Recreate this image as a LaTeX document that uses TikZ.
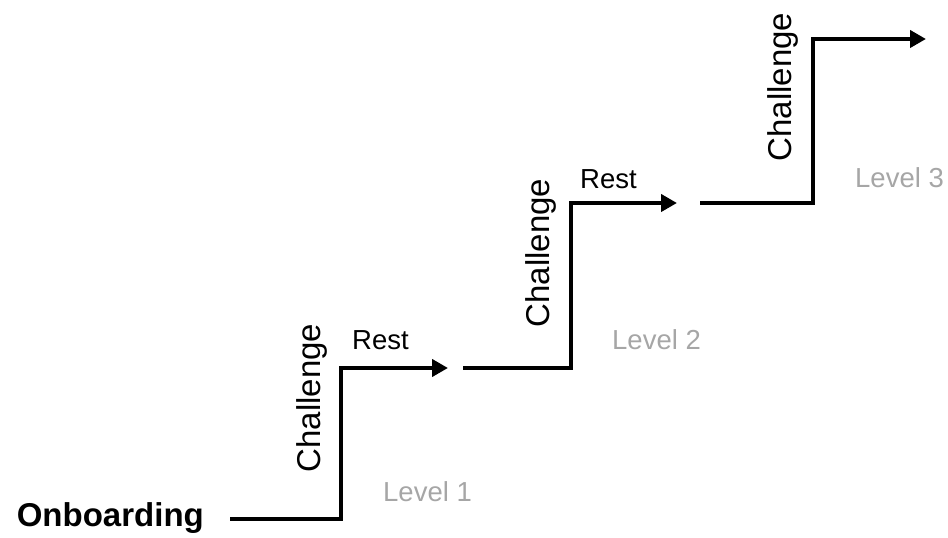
\documentclass[tikz,border=0pt]{standalone}
\usepackage{fontspec}
\setmainfont{Liberation Sans}
\usepackage{tikz}
\usetikzlibrary{arrows.meta, positioning}
\definecolor{levelgray}{RGB}{166, 166, 166}

\begin{document}
\begin{tikzpicture}[
    x=1pt, y=1pt,
    stair/.style={line width=4.4pt, line join=miter, -{Triangle[length=16pt, width=17pt]}},
    climb/.style={rotate=90, anchor=base, inner sep=0pt, font=\fontsize{33}{33}\selectfont},
    rest/.style={anchor=base west, inner sep=0pt, font=\fontsize{27.5}{27.5}\selectfont},
    level/.style={anchor=base west, inner sep=0pt, text=levelgray, font=\fontsize{27.5}{27.5}\selectfont}
]
    \useasboundingbox (0,0) rectangle (948,538);

    % corners of the three steps
    \coordinate (s1) at (230,19);
    \coordinate (k1) at (341,19);
    \coordinate (t1) at (341,170);
    \coordinate (e1) at (448,170);
    \coordinate (s2) at (463,170);
    \coordinate (k2) at (571,170);
    \coordinate (t2) at (571,335);
    \coordinate (e2) at (677,335);
    \coordinate (s3) at (700,335);
    \coordinate (k3) at (813,335);
    \coordinate (t3) at (813,499);
    \coordinate (e3) at (926,499);

    \node[anchor=base east, inner sep=0pt, font=\fontsize{33}{33}\selectfont\bfseries] (start) at (204,11) {Onboarding};

    \node[climb] (ch1) at (320,140) {Challenge};
    \node[climb] (ch2) at (549,285) {Challenge};
    \node[climb] (ch3) at (791,451) {Challenge};

    \node[rest] (rest1) at (352,188) {Rest};
    \node[rest] (rest2) at (580,349) {Rest};

    \node[level] (lv1) at (383,36) {Level 1};
    \node[level] (lv2) at (612,188) {Level 2};
    \node[level] (lv3) at (855,350) {Level 3};

    \draw[stair] (s1) -- (k1) -- (t1) -- (e1);
    \draw[stair] (s2) -- (k2) -- (t2) -- (e2);
    \draw[stair] (s3) -- (k3) -- (t3) -- (e3);

\end{tikzpicture}
\end{document}
